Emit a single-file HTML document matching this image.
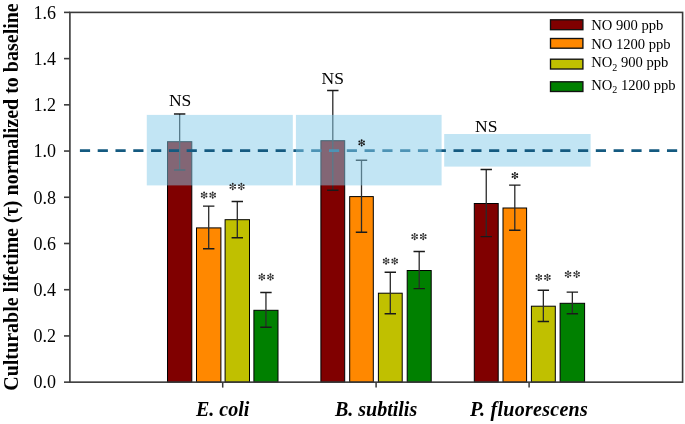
<!DOCTYPE html><html><head><meta charset="utf-8"><style>html,body{margin:0;padding:0;background:#fff;}svg{display:block;filter:blur(0.4px);}text{font-family:"Liberation Serif",serif;}</style></head><body><svg width="685" height="424" viewBox="0 0 685 424"><rect x="0" y="0" width="685" height="424" fill="#fff"/><rect x="167.50" y="141.70" width="24.30" height="240.45" fill="#800000" stroke="#000" stroke-width="1"/><rect x="196.50" y="227.90" width="24.40" height="154.25" fill="#ff8800" stroke="#000" stroke-width="1"/><rect x="225.10" y="219.70" width="24.40" height="162.45" fill="#c0c000" stroke="#000" stroke-width="1"/><rect x="253.90" y="310.30" width="24.10" height="71.85" fill="#008000" stroke="#000" stroke-width="1"/><path d="M179.65 114.00V170.00" stroke="#2a2a2a" stroke-width="1.3" fill="none"/><path d="M173.95 114.00H185.35M173.95 170.00H185.35" stroke="#1a1a1a" stroke-width="1.45" fill="none"/><path d="M208.70 206.10V248.70" stroke="#2a2a2a" stroke-width="1.3" fill="none"/><path d="M203.00 206.10H214.40M203.00 248.70H214.40" stroke="#1a1a1a" stroke-width="1.45" fill="none"/><path d="M237.30 201.40V237.70" stroke="#2a2a2a" stroke-width="1.3" fill="none"/><path d="M231.60 201.40H243.00M231.60 237.70H243.00" stroke="#1a1a1a" stroke-width="1.45" fill="none"/><path d="M265.95 292.40V327.30" stroke="#2a2a2a" stroke-width="1.3" fill="none"/><path d="M260.25 292.40H271.65M260.25 327.30H271.65" stroke="#1a1a1a" stroke-width="1.45" fill="none"/><rect x="320.90" y="140.70" width="23.80" height="241.45" fill="#800000" stroke="#000" stroke-width="1"/><rect x="349.70" y="196.60" width="23.60" height="185.55" fill="#ff8800" stroke="#000" stroke-width="1"/><rect x="378.40" y="293.20" width="23.80" height="88.95" fill="#c0c000" stroke="#000" stroke-width="1"/><rect x="407.20" y="270.50" width="24.00" height="111.65" fill="#008000" stroke="#000" stroke-width="1"/><path d="M332.80 90.50V190.20" stroke="#2a2a2a" stroke-width="1.3" fill="none"/><path d="M327.10 90.50H338.50M327.10 190.20H338.50" stroke="#1a1a1a" stroke-width="1.45" fill="none"/><path d="M361.50 160.20V232.30" stroke="#2a2a2a" stroke-width="1.3" fill="none"/><path d="M355.80 160.20H367.20M355.80 232.30H367.20" stroke="#1a1a1a" stroke-width="1.45" fill="none"/><path d="M390.30 272.30V313.80" stroke="#2a2a2a" stroke-width="1.3" fill="none"/><path d="M384.60 272.30H396.00M384.60 313.80H396.00" stroke="#1a1a1a" stroke-width="1.45" fill="none"/><path d="M419.20 251.40V288.60" stroke="#2a2a2a" stroke-width="1.3" fill="none"/><path d="M413.50 251.40H424.90M413.50 288.60H424.90" stroke="#1a1a1a" stroke-width="1.45" fill="none"/><rect x="474.30" y="203.50" width="23.90" height="178.65" fill="#800000" stroke="#000" stroke-width="1"/><rect x="503.00" y="208.00" width="23.60" height="174.15" fill="#ff8800" stroke="#000" stroke-width="1"/><rect x="531.40" y="306.20" width="23.90" height="75.95" fill="#c0c000" stroke="#000" stroke-width="1"/><rect x="560.10" y="303.30" width="24.50" height="78.85" fill="#008000" stroke="#000" stroke-width="1"/><path d="M486.25 169.40V236.60" stroke="#2a2a2a" stroke-width="1.3" fill="none"/><path d="M480.55 169.40H491.95M480.55 236.60H491.95" stroke="#1a1a1a" stroke-width="1.45" fill="none"/><path d="M514.80 185.10V230.20" stroke="#2a2a2a" stroke-width="1.3" fill="none"/><path d="M509.10 185.10H520.50M509.10 230.20H520.50" stroke="#1a1a1a" stroke-width="1.45" fill="none"/><path d="M543.35 290.20V321.50" stroke="#2a2a2a" stroke-width="1.3" fill="none"/><path d="M537.65 290.20H549.05M537.65 321.50H549.05" stroke="#1a1a1a" stroke-width="1.45" fill="none"/><path d="M572.35 292.10V313.80" stroke="#2a2a2a" stroke-width="1.3" fill="none"/><path d="M566.65 292.10H578.05M566.65 313.80H578.05" stroke="#1a1a1a" stroke-width="1.45" fill="none"/><rect x="146.8" y="114.9" width="146.00" height="70.50" fill="rgba(133,203,233,0.5)"/><rect x="444.2" y="134.0" width="146.40" height="32.60" fill="rgba(133,203,233,0.5)"/><line x1="79.9" y1="150.55" x2="677.2" y2="150.55" stroke="#145a80" stroke-width="2.8" stroke-dasharray="10.2 7.59"/><rect x="295.9" y="114.9" width="145.70" height="70.50" fill="rgba(133,203,233,0.5)"/><text x="180.1" y="105.90" font-size="17.5" text-anchor="middle" fill="#000">NS</text><path d="M204.10 192.40L204.10 197.80M201.76 193.75L206.44 196.45M201.76 196.45L206.44 193.75" stroke="#555" stroke-width="0.85" fill="none"/><circle cx="204.10" cy="192.40" r="0.95" fill="#262626"/><circle cx="201.76" cy="193.75" r="0.95" fill="#262626"/><circle cx="201.76" cy="196.45" r="0.95" fill="#262626"/><circle cx="204.10" cy="197.80" r="0.95" fill="#262626"/><circle cx="206.44" cy="196.45" r="0.95" fill="#262626"/><circle cx="206.44" cy="193.75" r="0.95" fill="#262626"/><circle cx="204.10" cy="195.10" r="0.85" fill="#555"/><path d="M212.70 192.40L212.70 197.80M210.36 193.75L215.04 196.45M210.36 196.45L215.04 193.75" stroke="#555" stroke-width="0.85" fill="none"/><circle cx="212.70" cy="192.40" r="0.95" fill="#262626"/><circle cx="210.36" cy="193.75" r="0.95" fill="#262626"/><circle cx="210.36" cy="196.45" r="0.95" fill="#262626"/><circle cx="212.70" cy="197.80" r="0.95" fill="#262626"/><circle cx="215.04" cy="196.45" r="0.95" fill="#262626"/><circle cx="215.04" cy="193.75" r="0.95" fill="#262626"/><circle cx="212.70" cy="195.10" r="0.85" fill="#555"/><path d="M232.75 183.80L232.75 189.20M230.41 185.15L235.09 187.85M230.41 187.85L235.09 185.15" stroke="#555" stroke-width="0.85" fill="none"/><circle cx="232.75" cy="183.80" r="0.95" fill="#262626"/><circle cx="230.41" cy="185.15" r="0.95" fill="#262626"/><circle cx="230.41" cy="187.85" r="0.95" fill="#262626"/><circle cx="232.75" cy="189.20" r="0.95" fill="#262626"/><circle cx="235.09" cy="187.85" r="0.95" fill="#262626"/><circle cx="235.09" cy="185.15" r="0.95" fill="#262626"/><circle cx="232.75" cy="186.50" r="0.85" fill="#555"/><path d="M241.35 183.80L241.35 189.20M239.01 185.15L243.69 187.85M239.01 187.85L243.69 185.15" stroke="#555" stroke-width="0.85" fill="none"/><circle cx="241.35" cy="183.80" r="0.95" fill="#262626"/><circle cx="239.01" cy="185.15" r="0.95" fill="#262626"/><circle cx="239.01" cy="187.85" r="0.95" fill="#262626"/><circle cx="241.35" cy="189.20" r="0.95" fill="#262626"/><circle cx="243.69" cy="187.85" r="0.95" fill="#262626"/><circle cx="243.69" cy="185.15" r="0.95" fill="#262626"/><circle cx="241.35" cy="186.50" r="0.85" fill="#555"/><path d="M261.85 274.25L261.85 279.65M259.51 275.60L264.19 278.30M259.51 278.30L264.19 275.60" stroke="#555" stroke-width="0.85" fill="none"/><circle cx="261.85" cy="274.25" r="0.95" fill="#262626"/><circle cx="259.51" cy="275.60" r="0.95" fill="#262626"/><circle cx="259.51" cy="278.30" r="0.95" fill="#262626"/><circle cx="261.85" cy="279.65" r="0.95" fill="#262626"/><circle cx="264.19" cy="278.30" r="0.95" fill="#262626"/><circle cx="264.19" cy="275.60" r="0.95" fill="#262626"/><circle cx="261.85" cy="276.95" r="0.85" fill="#555"/><path d="M270.45 274.25L270.45 279.65M268.11 275.60L272.79 278.30M268.11 278.30L272.79 275.60" stroke="#555" stroke-width="0.85" fill="none"/><circle cx="270.45" cy="274.25" r="0.95" fill="#262626"/><circle cx="268.11" cy="275.60" r="0.95" fill="#262626"/><circle cx="268.11" cy="278.30" r="0.95" fill="#262626"/><circle cx="270.45" cy="279.65" r="0.95" fill="#262626"/><circle cx="272.79" cy="278.30" r="0.95" fill="#262626"/><circle cx="272.79" cy="275.60" r="0.95" fill="#262626"/><circle cx="270.45" cy="276.95" r="0.85" fill="#555"/><text x="332.7" y="84.10" font-size="17.5" text-anchor="middle" fill="#000">NS</text><path d="M361.65 140.20L361.65 145.60M359.31 141.55L363.99 144.25M359.31 144.25L363.99 141.55" stroke="#333" stroke-width="0.85" fill="none"/><circle cx="361.65" cy="140.20" r="0.95" fill="#111"/><circle cx="359.31" cy="141.55" r="0.95" fill="#111"/><circle cx="359.31" cy="144.25" r="0.95" fill="#111"/><circle cx="361.65" cy="145.60" r="0.95" fill="#111"/><circle cx="363.99" cy="144.25" r="0.95" fill="#111"/><circle cx="363.99" cy="141.55" r="0.95" fill="#111"/><circle cx="361.65" cy="142.90" r="0.85" fill="#333"/><path d="M386.10 258.35L386.10 263.75M383.76 259.70L388.44 262.40M383.76 262.40L388.44 259.70" stroke="#555" stroke-width="0.85" fill="none"/><circle cx="386.10" cy="258.35" r="0.95" fill="#262626"/><circle cx="383.76" cy="259.70" r="0.95" fill="#262626"/><circle cx="383.76" cy="262.40" r="0.95" fill="#262626"/><circle cx="386.10" cy="263.75" r="0.95" fill="#262626"/><circle cx="388.44" cy="262.40" r="0.95" fill="#262626"/><circle cx="388.44" cy="259.70" r="0.95" fill="#262626"/><circle cx="386.10" cy="261.05" r="0.85" fill="#555"/><path d="M394.70 258.35L394.70 263.75M392.36 259.70L397.04 262.40M392.36 262.40L397.04 259.70" stroke="#555" stroke-width="0.85" fill="none"/><circle cx="394.70" cy="258.35" r="0.95" fill="#262626"/><circle cx="392.36" cy="259.70" r="0.95" fill="#262626"/><circle cx="392.36" cy="262.40" r="0.95" fill="#262626"/><circle cx="394.70" cy="263.75" r="0.95" fill="#262626"/><circle cx="397.04" cy="262.40" r="0.95" fill="#262626"/><circle cx="397.04" cy="259.70" r="0.95" fill="#262626"/><circle cx="394.70" cy="261.05" r="0.85" fill="#555"/><path d="M414.65 233.85L414.65 239.25M412.31 235.20L416.99 237.90M412.31 237.90L416.99 235.20" stroke="#555" stroke-width="0.85" fill="none"/><circle cx="414.65" cy="233.85" r="0.95" fill="#262626"/><circle cx="412.31" cy="235.20" r="0.95" fill="#262626"/><circle cx="412.31" cy="237.90" r="0.95" fill="#262626"/><circle cx="414.65" cy="239.25" r="0.95" fill="#262626"/><circle cx="416.99" cy="237.90" r="0.95" fill="#262626"/><circle cx="416.99" cy="235.20" r="0.95" fill="#262626"/><circle cx="414.65" cy="236.55" r="0.85" fill="#555"/><path d="M423.25 233.85L423.25 239.25M420.91 235.20L425.59 237.90M420.91 237.90L425.59 235.20" stroke="#555" stroke-width="0.85" fill="none"/><circle cx="423.25" cy="233.85" r="0.95" fill="#262626"/><circle cx="420.91" cy="235.20" r="0.95" fill="#262626"/><circle cx="420.91" cy="237.90" r="0.95" fill="#262626"/><circle cx="423.25" cy="239.25" r="0.95" fill="#262626"/><circle cx="425.59" cy="237.90" r="0.95" fill="#262626"/><circle cx="425.59" cy="235.20" r="0.95" fill="#262626"/><circle cx="423.25" cy="236.55" r="0.85" fill="#555"/><text x="486.3" y="132.30" font-size="17.5" text-anchor="middle" fill="#000">NS</text><path d="M514.90 172.85L514.90 178.25M512.56 174.20L517.24 176.90M512.56 176.90L517.24 174.20" stroke="#333" stroke-width="0.85" fill="none"/><circle cx="514.90" cy="172.85" r="0.95" fill="#111"/><circle cx="512.56" cy="174.20" r="0.95" fill="#111"/><circle cx="512.56" cy="176.90" r="0.95" fill="#111"/><circle cx="514.90" cy="178.25" r="0.95" fill="#111"/><circle cx="517.24" cy="176.90" r="0.95" fill="#111"/><circle cx="517.24" cy="174.20" r="0.95" fill="#111"/><circle cx="514.90" cy="175.55" r="0.85" fill="#333"/><path d="M538.80 274.70L538.80 280.10M536.46 276.05L541.14 278.75M536.46 278.75L541.14 276.05" stroke="#555" stroke-width="0.85" fill="none"/><circle cx="538.80" cy="274.70" r="0.95" fill="#262626"/><circle cx="536.46" cy="276.05" r="0.95" fill="#262626"/><circle cx="536.46" cy="278.75" r="0.95" fill="#262626"/><circle cx="538.80" cy="280.10" r="0.95" fill="#262626"/><circle cx="541.14" cy="278.75" r="0.95" fill="#262626"/><circle cx="541.14" cy="276.05" r="0.95" fill="#262626"/><circle cx="538.80" cy="277.40" r="0.85" fill="#555"/><path d="M547.40 274.70L547.40 280.10M545.06 276.05L549.74 278.75M545.06 278.75L549.74 276.05" stroke="#555" stroke-width="0.85" fill="none"/><circle cx="547.40" cy="274.70" r="0.95" fill="#262626"/><circle cx="545.06" cy="276.05" r="0.95" fill="#262626"/><circle cx="545.06" cy="278.75" r="0.95" fill="#262626"/><circle cx="547.40" cy="280.10" r="0.95" fill="#262626"/><circle cx="549.74" cy="278.75" r="0.95" fill="#262626"/><circle cx="549.74" cy="276.05" r="0.95" fill="#262626"/><circle cx="547.40" cy="277.40" r="0.85" fill="#555"/><path d="M568.05 271.55L568.05 276.95M565.71 272.90L570.39 275.60M565.71 275.60L570.39 272.90" stroke="#555" stroke-width="0.85" fill="none"/><circle cx="568.05" cy="271.55" r="0.95" fill="#262626"/><circle cx="565.71" cy="272.90" r="0.95" fill="#262626"/><circle cx="565.71" cy="275.60" r="0.95" fill="#262626"/><circle cx="568.05" cy="276.95" r="0.95" fill="#262626"/><circle cx="570.39" cy="275.60" r="0.95" fill="#262626"/><circle cx="570.39" cy="272.90" r="0.95" fill="#262626"/><circle cx="568.05" cy="274.25" r="0.85" fill="#555"/><path d="M576.65 271.55L576.65 276.95M574.31 272.90L578.99 275.60M574.31 275.60L578.99 272.90" stroke="#555" stroke-width="0.85" fill="none"/><circle cx="576.65" cy="271.55" r="0.95" fill="#262626"/><circle cx="574.31" cy="272.90" r="0.95" fill="#262626"/><circle cx="574.31" cy="275.60" r="0.95" fill="#262626"/><circle cx="576.65" cy="276.95" r="0.95" fill="#262626"/><circle cx="578.99" cy="275.60" r="0.95" fill="#262626"/><circle cx="578.99" cy="272.90" r="0.95" fill="#262626"/><circle cx="576.65" cy="274.25" r="0.85" fill="#555"/><rect x="69.9" y="12.4" width="612.7" height="369.75" fill="none" stroke="#3a3a3a" stroke-width="1.6"/><line x1="64" y1="382.15" x2="69.9" y2="382.15" stroke="#3a3a3a" stroke-width="1.6"/><text x="56" y="388.45" font-size="18" text-anchor="end" fill="#000">0.0</text><line x1="64" y1="335.93" x2="69.9" y2="335.93" stroke="#3a3a3a" stroke-width="1.6"/><text x="56" y="342.23" font-size="18" text-anchor="end" fill="#000">0.2</text><line x1="64" y1="289.71" x2="69.9" y2="289.71" stroke="#3a3a3a" stroke-width="1.6"/><text x="56" y="296.01" font-size="18" text-anchor="end" fill="#000">0.4</text><line x1="64" y1="243.49" x2="69.9" y2="243.49" stroke="#3a3a3a" stroke-width="1.6"/><text x="56" y="249.79" font-size="18" text-anchor="end" fill="#000">0.6</text><line x1="64" y1="197.27" x2="69.9" y2="197.27" stroke="#3a3a3a" stroke-width="1.6"/><text x="56" y="203.57" font-size="18" text-anchor="end" fill="#000">0.8</text><line x1="64" y1="151.05" x2="69.9" y2="151.05" stroke="#3a3a3a" stroke-width="1.6"/><text x="56" y="157.35" font-size="18" text-anchor="end" fill="#000">1.0</text><line x1="64" y1="104.83" x2="69.9" y2="104.83" stroke="#3a3a3a" stroke-width="1.6"/><text x="56" y="111.13" font-size="18" text-anchor="end" fill="#000">1.2</text><line x1="64" y1="58.61" x2="69.9" y2="58.61" stroke="#3a3a3a" stroke-width="1.6"/><text x="56" y="64.91" font-size="18" text-anchor="end" fill="#000">1.4</text><line x1="64" y1="12.39" x2="69.9" y2="12.39" stroke="#3a3a3a" stroke-width="1.6"/><text x="56" y="18.69" font-size="18" text-anchor="end" fill="#000">1.6</text><line x1="222.7" y1="382" x2="222.7" y2="387.6" stroke="#3a3a3a" stroke-width="1.5"/><text x="222.7" y="415.5" font-size="20" font-weight="bold" font-style="italic" text-anchor="middle" fill="#000">E. coli</text><line x1="376.1" y1="382" x2="376.1" y2="387.6" stroke="#3a3a3a" stroke-width="1.5"/><text x="376.1" y="415.5" font-size="20" font-weight="bold" font-style="italic" text-anchor="middle" fill="#000">B. subtilis</text><line x1="529.1" y1="382" x2="529.1" y2="387.6" stroke="#3a3a3a" stroke-width="1.5"/><text x="528.9" y="415.5" font-size="20" font-weight="bold" font-style="italic" text-anchor="middle" fill="#000" textLength="117.8" lengthAdjust="spacing">P. fluorescens</text><text transform="translate(17.7,197) rotate(-90)" x="0" y="0" font-size="20" font-weight="bold" text-anchor="middle" fill="#000">Culturable lifetime (&#964;) normalized to baseline</text><rect x="550.5" y="19.80" width="32.4" height="9.90" fill="#800000" stroke="#111" stroke-width="1.35"/><text x="591.2" y="30.1" font-size="14.6" fill="#000">NO 900 ppb</text><rect x="550.5" y="38.50" width="32.4" height="9.70" fill="#ff8800" stroke="#111" stroke-width="1.35"/><text x="591.2" y="48.6" font-size="14.6" fill="#000">NO 1200 ppb</text><rect x="550.5" y="59.20" width="32.4" height="9.80" fill="#c0c000" stroke="#111" stroke-width="1.35"/><text x="591.2" y="67.3" font-size="14.6" fill="#000">NO<tspan font-size="10" dy="3.5">2</tspan><tspan dy="-3.5"> 900 ppb</tspan></text><rect x="550.5" y="81.80" width="32.4" height="9.70" fill="#008000" stroke="#111" stroke-width="1.35"/><text x="591.2" y="89.9" font-size="14.6" fill="#000">NO<tspan font-size="10" dy="3.5">2</tspan><tspan dy="-3.5"> 1200 ppb</tspan></text></svg></body></html>
